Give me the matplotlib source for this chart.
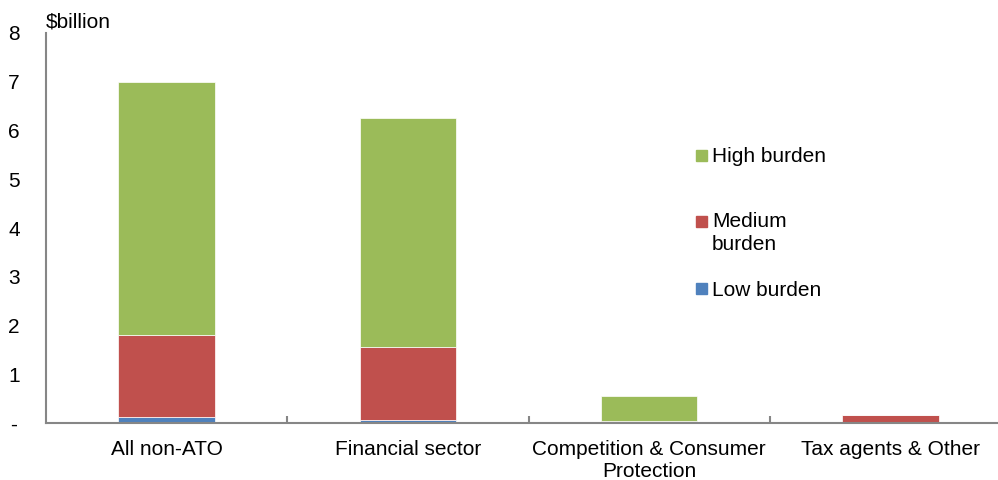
import matplotlib.pyplot as plt
from matplotlib.patches import Rectangle
import numpy as np

plt.rcParams["font.family"] = ["Liberation Sans", "DejaVu Sans"]

categories = ["All non-ATO", "Financial sector", "Competition & Consumer\nProtection", "Tax agents & Other"]
low_burden = [0.12, 0.06, 0.01, 0.01]
medium_burden = [1.68, 1.49, 0.04, 0.16]
high_burden = [5.20, 4.71, 0.50, 0.0]
y_ticks = [0, 1, 2, 3, 4, 5, 6, 7, 8]
y_tick_labels = ["-", "1", "2", "3", "4", "5", "6", "7", "8"]

c_low = "#4F81BD"
c_med = "#C0504D"
c_high = "#9BBB59"
grey = "#868686"
font_s = 15

fig = plt.figure(figsize=(9.98, 4.8), dpi=100)
# axes runs slightly past the right edge like the original
ax = fig.add_axes([46 / 998, (480 - 423) / 480, (1011 - 46) / 998, 390 / 480])

x = np.arange(len(categories))
w = 0.4
low = np.array(low_burden)
med = np.array(medium_burden)
high = np.array(high_burden)
ax.bar(x, low, w, color=c_low, edgecolor="white", linewidth=0.5)
ax.bar(x, med, w, bottom=low, color=c_med, edgecolor="white", linewidth=0.5)
ax.bar(x, high, w, bottom=low + med, color=c_high, edgecolor="white", linewidth=0.5)

ax.set_xlim(-0.5, len(categories) - 0.5)
ax.set_ylim(0, 8)

for s in ["top", "right"]:
    ax.spines[s].set_visible(False)
ax.spines["left"].set_color(grey)
ax.spines["bottom"].set_color(grey)
ax.spines["left"].set_linewidth(1.5)
ax.spines["bottom"].set_linewidth(1.5)

ax.set_yticks(y_ticks)
ax.set_yticklabels(y_tick_labels, fontsize=font_s)
ax.tick_params(axis="y", length=0, pad=23)
for lab in ax.get_yticklabels():
    lab.set_horizontalalignment("center")

ax.set_xticks(x)
ax.set_xticklabels(categories, fontsize=font_s, linespacing=1.25)
ax.tick_params(axis="x", which="major", length=0, pad=12)
ax.set_xticks(np.arange(len(categories)) + 0.5, minor=True)
ax.tick_params(axis="x", which="minor", direction="in", length=5, width=1.5, color=grey)

fig.text(46 / 998, 1 - 22 / 480, "$billion", fontsize=font_s, va="center", ha="left")

# legend drawn by hand to keep the spread-out layout
legend_items = [("High burden", c_high, 157), ("Medium\nburden", c_med, 233), ("Low burden", c_low, 290)]
for label, col, ypix in legend_items:
    sq_center = ypix - 2 if "\n" not in label else 221
    fig.patches.append(Rectangle((696 / 998, 1 - (sq_center + 5.5) / 480), 11 / 998, 11 / 480,
                                 transform=fig.transFigure, color=col, figure=fig))
    fig.text(712 / 998, 1 - ypix / 480, label, fontsize=font_s, va="center", ha="left", linespacing=1.25)

plt.savefig("out.png", dpi=100)
